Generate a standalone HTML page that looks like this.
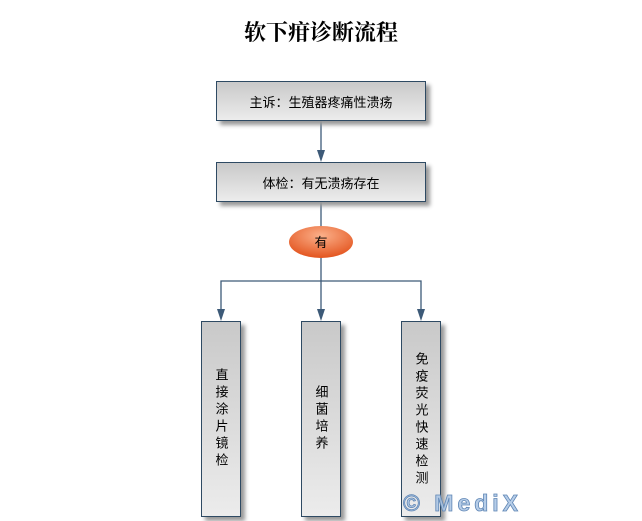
<!DOCTYPE html>
<html><head><meta charset="utf-8"><style>
body{margin:0;background:#fff;width:642px;height:521px;overflow:hidden;position:relative;font-family:"Liberation Sans","Noto Sans CJK SC",sans-serif}
.t{position:absolute;left:0;width:642px;top:16px;text-align:center;font-size:22px;font-weight:bold;font-family:"Liberation Serif","Noto Serif CJK SC",serif}
.b{position:absolute;box-sizing:border-box;border:1px solid #2e4a63;background:linear-gradient(#c9c9c9,#ececec);box-shadow:4px 4px 4px #999;display:flex;align-items:center;justify-content:center;font-size:13px;color:#000}
.v{writing-mode:vertical-rl;text-orientation:upright;line-height:1;letter-spacing:4px}
</style></head><body>
<div class="t">软下疳诊断流程</div>
<svg width="642" height="521" style="position:absolute;left:0;top:0">
<defs><radialGradient id="g" cx="50%" cy="30%" r="70%"><stop offset="0" stop-color="#fbb08a"/><stop offset="1" stop-color="#e3541e"/></radialGradient></defs>
<g stroke="#3d5a78" stroke-width="1.3" fill="none">
<line x1="321" y1="121" x2="321" y2="152"/>
<line x1="321" y1="202" x2="321" y2="226"/>
<line x1="321" y1="258" x2="321" y2="312"/>
<polyline points="221,312 221,281 421,281 421,312"/>
</g>
<g fill="#3d5a78">
<path d="M317,150 L325,150 L321,162z"/>
<path d="M217,309 L225,309 L221,321z"/>
<path d="M317,309 L325,309 L321,321z"/>
<path d="M417,309 L425,309 L421,321z"/>
</g>
<ellipse cx="321" cy="242" rx="32" ry="16" fill="url(#g)"/>
<text x="321" y="247" font-size="13" text-anchor="middle" font-family="Liberation Sans,Noto Sans CJK SC,sans-serif">有</text>
</svg>
<div class="b" style="left:216px;top:81px;width:210px;height:40px">主诉：生殖器疼痛性溃疡</div>
<div class="b" style="left:216px;top:162px;width:210px;height:40px">体检：有无溃疡存在</div>
<div class="b" style="left:201px;top:321px;width:40px;height:196px"><span class="v">直接涂片镜检</span></div>
<div class="b" style="left:301px;top:321px;width:40px;height:196px"><span class="v">细菌培养</span></div>
<div class="b" style="left:401px;top:321px;width:40px;height:196px;align-items:flex-start;padding-top:30px"><span class="v">免疫荧光快速检测</span></div>
<svg width="642" height="521" style="position:absolute;left:0;top:0;pointer-events:none"><text x="403" y="511" font-size="23" font-weight="bold" fill="#a9c4e4" fill-opacity="0.85" stroke="#5f86b5" stroke-width="0.8" font-family="Liberation Sans,sans-serif" textLength="115">© MediX</text></svg>
</body></html>
